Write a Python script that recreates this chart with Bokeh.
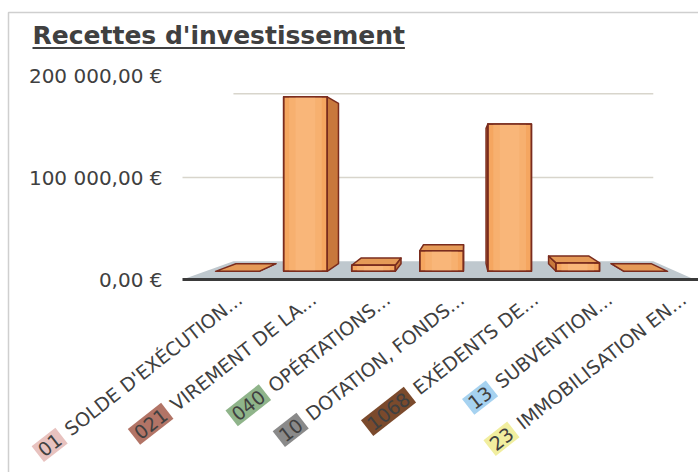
import glob, math, os
from bokeh.plotting import figure
from bokeh.models import Range1d, ColumnDataSource
from bokeh.embed import file_html
from bokeh.resources import INLINE
from bokeh.core.properties import value

# ---------------- data ----------------
codes = ["01", "021", "040", "10", "1068", "13", "23"]
names = ["SOLDE D'EXÉCUTION...", "VIREMENT DE LA...", "OPÉRTATIONS...",
         "DOTATION, FONDS...", "EXÉDENTS DE...", "SUBVENTION...", "IMMOBILISATION EN..."]
amounts = [0, 186000, 6500, 22000, 157000, 9000, 0]
y_ticks = [0, 100000, 200000]
y_tick_labels = ["0,00 €", "100 000,00 €", "200 000,00 €"]
title_text = "Recettes d'investissement"

# ---------------- style ----------------
code_colors = ["#e8c2bf", "#b27466", "#8fb48a", "#8a8a8a", "#7b4a2c", "#a6d2f0", "#f1ee9f"]
FONT = "DejaVu Sans"
TEXT = "#404040"
FRONT = "#f5a660"
FRONT_LIGHT = "#fcc28c"
SIDE = "#c8783c"
TOP = "#e59a57"
EDGE = "#7a2c1e"
GRID = "#d8d5cc"
FLOOR = "#bfc8ce"

W, H = 698, 472
X0_PX, PX_PER_CAT = 217, 74   # category 0 on the front plane, px per category
Y0_PX, PX_PER_UNIT = 279, 102 / 100000.0

def px2x(px):
    return (px - X0_PX) / PX_PER_CAT

def px2y(py):
    return (Y0_PX - py) / PX_PER_UNIT

# 3-D look: simple perspective toward a vanishing point
VX, VY = px2x(465), 100000.0
S_FRONT, S_BACK, S_WALL = 0.92, 0.845, 0.82
HALF = 0.32

def proj(x, y, s):
    return VX + s * (x - VX), VY + s * (y - VY)

def font_path(bold=False):
    pat = "DejaVuSans-Bold.ttf" if bold else "DejaVuSans.ttf"
    for root in ["/usr/share/fonts", "/usr/local/share/fonts", os.path.expanduser("~/.fonts")]:
        hits = glob.glob(os.path.join(root, "**", pat), recursive=True)
        if hits:
            return hits[0]
    return None

def text_width(txt, size, bold=False):
    try:
        from PIL import ImageFont
        path = font_path(bold)
        if path:
            return ImageFont.truetype(path, size).getlength(txt)
    except Exception:
        pass
    return len(txt) * size * (0.7 if bold else 0.62)

p = figure(width=W, height=H, output_backend="svg", toolbar_location=None,
           x_range=Range1d(px2x(0), px2x(W)), y_range=Range1d(px2y(H), px2y(0)),
           x_axis_location=None, y_axis_location=None,
           min_border=0, outline_line_color=None,
           background_fill_color="white", border_fill_color="white")
p.grid.visible = False

# chart border
p.line([px2x(8), px2x(8), px2x(W + 10)], [px2y(H + 10), px2y(12), px2y(12)],
       line_color="#cfcfcf", line_width=1.5)

# y tick labels
p.text(x=[px2x(162)] * len(y_ticks), y=y_ticks, text=y_tick_labels,
       text_align="right", text_baseline="middle", text_font=value(FONT),
       text_font_size="20px", text_color=TEXT)

# floor
x_fl, x_fr = px2x(182), px2x(694)
fl = [proj(x_fl, 0, 1), proj(x_fr, 0, 1), proj(x_fr, 0, S_WALL), proj(x_fl, 0, S_WALL)]
p.patch([a for a, b in fl], [b for a, b in fl], fill_color=FLOOR, line_color=None)

# gridlines: back wall (all), left side wall (only where it is seen edge-level)
gx, gy = [], []
for t in y_ticks[1:]:
    a = proj(x_fl, t, S_WALL); b = proj(x_fr, t, S_WALL); c = proj(x_fl, t, 1)
    if t <= VY:
        gx.append([c[0], a[0], b[0]]); gy.append([c[1], a[1], b[1]])
    else:
        gx.append([a[0], b[0]]); gy.append([a[1], b[1]])
p.multi_line(gx, gy, line_color=GRID, line_width=1.5)

# floor front edge
p.line([proj(x_fl, 0, 1)[0], px2x(W + 10)], [0, 0], line_color="#3a3a3a", line_width=3)

# bars
fx, fy, sx, sy, tx, ty = [], [], [], [], [], []
hl_layers = {0.75: ([], []), 0.45: ([], [])}
for i, v in enumerate(amounts):
    l, r = i - HALF, i + HALF
    fbl, fbr, ftr, ftl = proj(l, 0, S_FRONT), proj(r, 0, S_FRONT), proj(r, v, S_FRONT), proj(l, v, S_FRONT)
    bbl, bbr, btr, btl = proj(l, 0, S_BACK), proj(r, 0, S_BACK), proj(r, v, S_BACK), proj(l, v, S_BACK)
    if v < VY:
        q = [ftl, ftr, btr, btl]
        tx.append([a for a, b in q]); ty.append([b for a, b in q])
    if r < VX:
        q = [ftr, fbr, bbr, btr]
        sx.append([a for a, b in q]); sy.append([b for a, b in q])
    elif l > VX:
        q = [ftl, fbl, bbl, btl]
        sx.append([a for a, b in q]); sy.append([b for a, b in q])
    if v > 0:
        q = [fbl, fbr, ftr, ftl]
        fx.append([a for a, b in q]); fy.append([b for a, b in q])
        for k, (lx, ly) in hl_layers.items():
            hl, hr = i - HALF * k, i + HALF * k
            q = [proj(hl, 0, S_FRONT), proj(hr, 0, S_FRONT), proj(hr, v, S_FRONT), proj(hl, v, S_FRONT)]
            lx.append([a for a, b in q]); ly.append([b for a, b in q])
p.patches(sx, sy, fill_color=SIDE, line_color=EDGE, line_width=1.5, line_join="round")
p.patches(tx, ty, fill_color=TOP, line_color=EDGE, line_width=1.5, line_join="round")
p.patches(fx, fy, fill_color=FRONT, line_color=EDGE, line_width=1.5, line_join="round")
for k, (lx, ly) in hl_layers.items():
    p.patches(lx, ly, fill_color=FRONT_LIGHT, fill_alpha=0.35, line_color=None)
p.patches(fx, fy, fill_color=None, line_color=EDGE, line_width=1.5, line_join="round")

# category labels (rotated, code on a coloured box)
ANG = math.radians(38)
LSIZE = 19
end_x = [i + px2x(X0_PX + 22) for i in range(len(codes))]
end_y = [px2y(296)] * len(codes)
p.text(x=end_x, y=end_y, text=names, angle=ANG, text_align="right", text_baseline="middle",
       text_font=value(FONT), text_font_size="%dpx" % LSIZE, text_color=TEXT)
cx, cy = [], []
for i, n in enumerate(names):
    d = text_width(n, LSIZE) + 7
    cx.append(end_x[i] - d * math.cos(ANG) / PX_PER_CAT)
    cy.append(end_y[i] - d * math.sin(ANG) / PX_PER_UNIT)
src = ColumnDataSource(dict(x=cx, y=cy, text=codes, bg=code_colors))
p.text(x="x", y="y", text="text", source=src, angle=ANG, text_align="right",
       text_baseline="middle", text_font=value(FONT), text_font_size="%dpx" % LSIZE,
       text_color=TEXT, background_fill_color="bg", padding=3)

# title with underline
TSIZE = 25
p.text(x=[px2x(32)], y=[px2y(34.5)], text=[title_text], text_font=value(FONT),
       text_font_style="bold", text_font_size="%dpx" % TSIZE, text_color=TEXT,
       text_align="left", text_baseline="middle")
tw = text_width(title_text, TSIZE, bold=True)
p.line([px2x(32), px2x(32 + tw)], [px2y(47.5), px2y(47.5)], line_color=TEXT, line_width=2)

open("out.html", "w").write(file_html(p, INLINE))
